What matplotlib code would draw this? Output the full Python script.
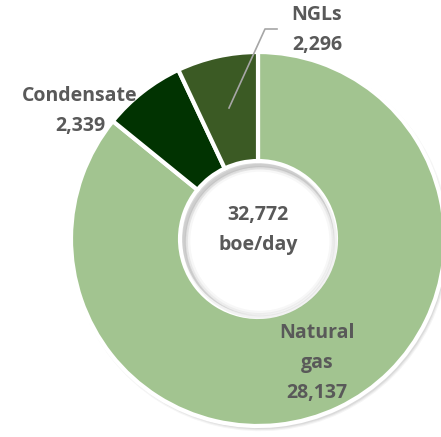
import matplotlib.pyplot as plt

# data
labels = ['Natural\ngas', 'Condensate', 'NGLs']
values = [28137, 2339, 2296]
colors = ['#A2C490', '#013301', '#3B5A24']
total = sum(values)

W, H = 441, 437
fig = plt.figure(figsize=(W / 100, H / 100), dpi=100)

# donut center (258, 239) px from top-left, outer radius 187 px
cx, cy, r = 258, 239, 187
ax = fig.add_axes([(cx - r) / W, (H - cy - r) / H, 2 * r / W, 2 * r / H])

# soft shadow behind the ring
for i, a in enumerate([0.06, 0.05, 0.04]):
    ax.pie(values, radius=1.0 + 0.006 * i, startangle=90, counterclock=False,
           colors=['#000000'] * 3, center=(0.012, -0.016),
           wedgeprops=dict(width=0.6 + 0.012 * i, alpha=a, linewidth=0), frame=True)

ax.pie(values, radius=1.0, startangle=90, counterclock=False, colors=colors,
       wedgeprops=dict(width=0.583, edgecolor='white', linewidth=3), frame=True)

# faint inner shadow in the hole
for i, a in enumerate([0.05, 0.04, 0.03]):
    ax.add_patch(plt.Circle((0.01, -0.012), 0.417 - 0.012 * (i + 1), facecolor='none',
                            edgecolor='black', alpha=a, linewidth=2.5))
ax.set_xlim(-1, 1)
ax.set_ylim(-1, 1)
ax.axis('off')

font = dict(family=['Open Sans', 'DejaVu Sans'], fontweight='bold', color='#595959', fontsize=14)


def px(x, y):
    return x / W, 1 - y / H


def label(x, y, s):
    fig.text(*px(x, y), s, ha='center', va='center', linespacing=1.65, **font)


label(258, 230, f'{total:,}\nboe/day')
label(317, 363, f'{labels[0]}\n{values[0]:,}')
label(80, 111, f'{labels[1]}\n{values[1]:,}')
label(317, 30, f'{labels[2]}\n{values[2]:,}')

# leader line for NGLs
fig.add_artist(plt.Line2D([277 / W, 265 / W, 229 / W],
                          [1 - 29 / H, 1 - 29 / H, 1 - 108 / H],
                          color='#A6A6A6', linewidth=1.2))

fig.savefig('out.png', dpi=100)
